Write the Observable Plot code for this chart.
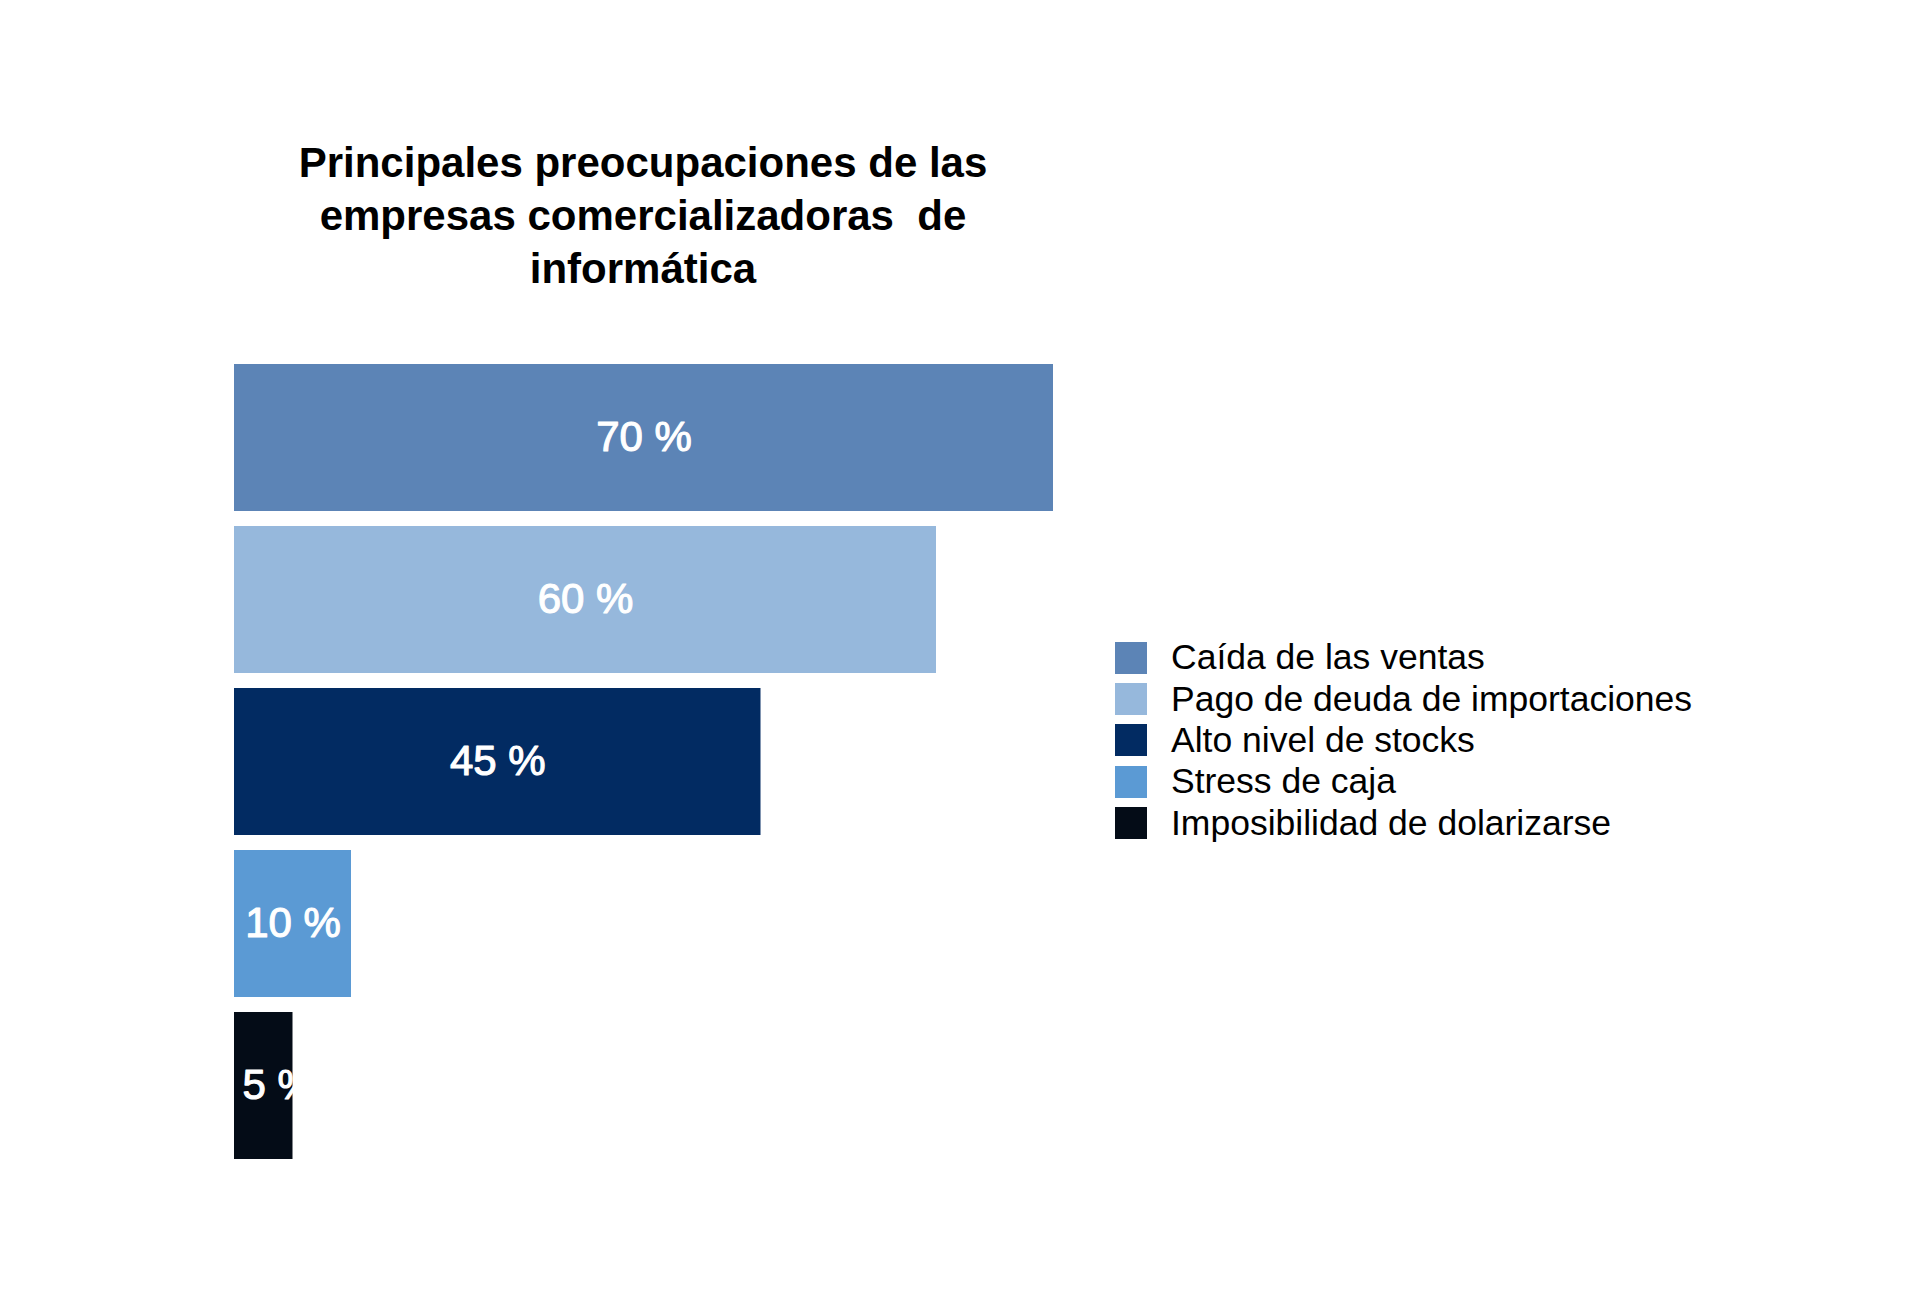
<!DOCTYPE html>
<html>
<head>
<meta charset="utf-8">
<script src="https://cdn.jsdelivr.net/npm/d3@7"></script>
<script src="https://cdn.jsdelivr.net/npm/@observablehq/plot@0.6"></script>
<style>
  html, body { margin: 0; padding: 0; background: #ffffff; }
  #wrap { position: relative; width: 1920px; height: 1289px; overflow: hidden; font-family: "Liberation Sans", Arial, Helvetica, sans-serif; }
  #title { position: absolute; left: 243px; width: 800px; top: 136px; text-align: center; font-weight: bold; font-size: 42px; line-height: 53px; color: #000; white-space: pre; }
  #chart { position: absolute; left: 0; top: 0; }
  #legend { position: absolute; left: 1115px; top: 637px; }
  .row { display: flex; align-items: center; height: 41.4px; }
  .sw { width: 32px; height: 32px; margin-right: 24px; flex: none; }
  .lab { font-size: 35.5px; color: #000; white-space: nowrap; }
</style>
</head>
<body>
<div id="wrap">
  <div id="chart"></div>
  <div id="title"></div>
  <div id="legend"></div>
</div>
<script>
const titleLines = ["Principales preocupaciones de las", "empresas comercializadoras  de", "informática"];
const categories = ["Caída de las ventas", "Pago de deuda de importaciones", "Alto nivel de stocks", "Stress de caja", "Imposibilidad de dolarizarse"];
const values = [70, 60, 45, 10, 5];
const colors = ["#5c84b6", "#96b8dc", "#022b62", "#5b9ad4", "#040c17"];

const data = categories.map((c, i) => ({ cat: c, v: values[i], label: `${values[i]} %` }));

document.getElementById("title").textContent = titleLines.join("\n");

const chart = Plot.plot({
  width: 1920,
  height: 1289,
  marginLeft: 234,
  marginRight: 867,
  x: { domain: [0, 70], axis: null },
  y: { domain: categories, range: [363, 1160], paddingInner: 0.094, paddingOuter: 0, axis: null },
  color: { domain: categories, range: colors },
  style: { fontFamily: "'Liberation Sans', Arial, Helvetica, sans-serif", background: "transparent" },
  marks: [
    Plot.barX(data, { x: "v", y: "cat", fill: "cat" }),
    Plot.text(data.filter(d => d.v >= 10), { x: d => d.v / 2, y: "cat", text: "label", fill: "white", stroke: "white", strokeWidth: 1.1, fontSize: 42 }),
    Plot.text(data.filter(d => d.v < 10), { x: 0, y: "cat", text: "label", fill: "white", stroke: "white", strokeWidth: 1.1, fontSize: 42, textAnchor: "start", dx: 8 })
  ]
});
document.getElementById("chart").appendChild(chart);

const legend = document.getElementById("legend");
categories.forEach((c, i) => {
  const row = document.createElement("div");
  row.className = "row";
  const sw = document.createElement("div");
  sw.className = "sw";
  sw.style.background = colors[i];
  const lab = document.createElement("div");
  lab.className = "lab";
  lab.textContent = c;
  row.appendChild(sw);
  row.appendChild(lab);
  legend.appendChild(row);
});
</script>
</body>
</html>
